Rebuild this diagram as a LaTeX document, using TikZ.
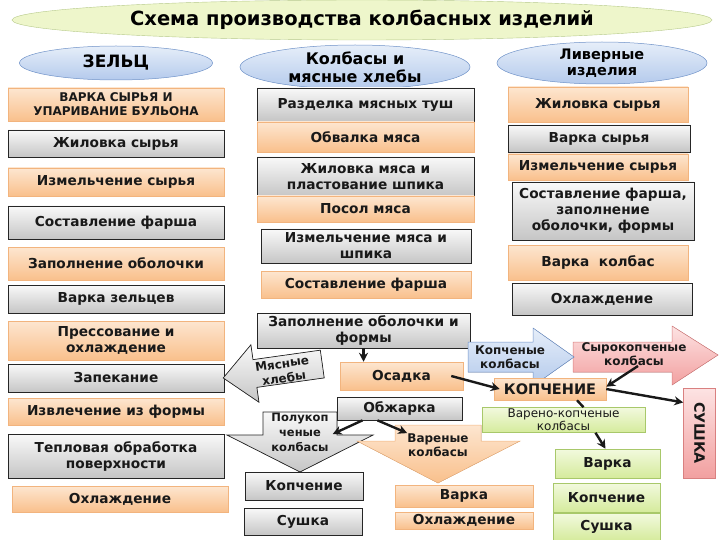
\documentclass[tikz,border=0pt]{standalone}
\usepackage{fontspec}
\setmainfont{DejaVu Sans}
\usetikzlibrary{arrows.meta,calc,shapes.geometric}

\definecolor{orlight}{HTML}{FDE6D0}
\definecolor{ordark}{HTML}{F9C08C}
\definecolor{orline}{HTML}{F2B47E}
\definecolor{grlight}{HTML}{F2F9DE}
\definecolor{grdark}{HTML}{D5EB9C}
\definecolor{grline}{HTML}{A8C86A}
\definecolor{bllight}{HTML}{E6EEF9}
\definecolor{bldark}{HTML}{B4CAEC}
\definecolor{blline}{HTML}{6F92C8}
\definecolor{pklight}{HTML}{FDE3E3}
\definecolor{pkdark}{HTML}{F2A0A0}
\definecolor{pkline}{HTML}{D98080}
\definecolor{ttlfill}{HTML}{EEF6CB}
\definecolor{ttlline}{HTML}{B6C98A}

\tikzset{
  box/.style={rectangle, inner sep=0pt, align=center, text=black!90,
    font=\bfseries\fontsize{13.7}{16}\selectfont},
  graybox/.style={box, draw=black!85, line width=0.7pt, top color=gray!5, bottom color=gray!45},
  orbox/.style={box, draw=orline, line width=0.5pt, top color=orlight, bottom color=ordark},
  grbox/.style={box, draw=grline, line width=0.5pt, top color=grlight, bottom color=grdark},
  pkbox/.style={box, draw=pkline, line width=0.5pt, top color=pklight, bottom color=pkdark},
  oval/.style={ellipse, inner sep=0pt, align=center, draw=blline, line width=0.5pt,
    top color=bllight, bottom color=bldark, font=\bfseries\fontsize{16}{18}\selectfont},
  lcol/.style={minimum width=216pt},
  mcol/.style={minimum width=217pt},
  rcol/.style={minimum width=180pt},
  small/.style={font=\bfseries\fontsize{12}{14.5}\selectfont},
  flow/.style={-{Stealth[length=9pt,width=9pt]}, line width=2.4pt, black!90},
}

\begin{document}
\begin{tikzpicture}[x=1pt,y=-1pt]
\useasboundingbox (0,0) rectangle (720,540);

% title and heads
\node[ellipse, draw=ttlline, fill=ttlfill, minimum width=700pt, minimum height=40pt,
  font=\bfseries\fontsize{19.5}{22}\selectfont] (title) at (362,20)
  {Схема производства колбасных изделий};
\node[oval, minimum width=193pt, minimum height=34pt, font=\bfseries\fontsize{17}{19}\selectfont]
  (zelts) at (116,63) {ЗЕЛЬЦ};
\node[oval, minimum width=230pt, minimum height=44pt] (kolb) at (355,67) {Колбасы и\\мясные хлебы};
\node[oval, minimum width=210pt, minimum height=42pt, font=\bfseries\fontsize{14.5}{16.5}\selectfont]
  (liver) at (602,63) {Ливерные\\изделия};

% left column
\node[orbox, lcol, minimum height=33pt, font=\bfseries\fontsize{12}{14}\selectfont] (l1) at (116,104.5)
  {ВАРКА СЫРЬЯ И\\УПАРИВАНИЕ БУЛЬОНА};
\node[graybox, lcol, minimum height=27pt] (l2) at (116,143.5) {Жиловка сырья};
\node[orbox, lcol, minimum height=28pt] (l3) at (116,182) {Измельчение сырья};
\node[graybox, lcol, minimum height=33pt] (l4) at (116,222.5) {Составление фарша};
\node[orbox, lcol, minimum height=33pt] (l5) at (116,263.5) {Заполнение оболочки};
\node[graybox, lcol, minimum height=28pt] (l6) at (116,299) {Варка зельцев};
\node[orbox, lcol, minimum height=39pt] (l7) at (116,340.5) {Прессование и\\охлаждение};
\node[graybox, lcol, minimum height=28pt] (l8) at (116,378) {Запекание};
\node[orbox, lcol, minimum height=27pt] (l9) at (116,411.5) {Извлечение из формы};
\node[graybox, lcol, minimum height=44pt] (l10) at (116,456) {Тепловая обработка\\поверхности};
\node[orbox, lcol, minimum height=26pt] (l11) at (120,499) {Охлаждение};

% middle column
\node[graybox, mcol, minimum height=33pt] (m1) at (365.5,104.5) {Разделка мясных туш};
\node[orbox, mcol, minimum height=30pt] (m2) at (365.5,137) {Обвалка мяса};
\node[graybox, mcol, minimum height=39pt] (m3) at (365.5,176.5) {Жиловка мяса и\\пластование шпика};
\node[orbox, mcol, minimum height=26pt] (m4) at (365.5,209) {Посол мяса};
\node[graybox, minimum width=210pt, minimum height=34pt] (m5) at (366,246) {Измельчение мяса и\\шпика};
\node[orbox, minimum width=210pt, minimum height=27pt] (m6) at (366,284.5) {Составление фарша};
\node[graybox, minimum width=213pt, minimum height=35pt] (m7) at (363.5,330.5) {Заполнение оболочки и\\формы};

% right column
\node[orbox, rcol, minimum height=35pt] (r1) at (598,104.5) {Жиловка сырья};
\node[graybox, minimum width=182pt, minimum height=27pt] (r2) at (599,138.5) {Варка сырья};
\node[orbox, rcol, minimum height=26pt] (r3) at (598,167) {Измельчение сырья};
\node[graybox, minimum width=182pt, minimum height=58pt] (r4) at (603,211)
  {Составление фарша,\\заполнение\\оболочки, формы};
\node[orbox, rcol, minimum height=35pt] (r5) at (598,262.5) {Варка\ \ колбас};
\node[graybox, rcol, minimum height=32pt] (r6) at (602,299) {Охлаждение};

% block arrows
\begin{scope}[shift={(272.75,371)}, rotate=8]
\filldraw[draw=black!85, line width=0.7pt, top color=gray!5, bottom color=gray!45]
  (-50,0) -- (-18,-29) -- (-18,-14) -- (50,-14) -- (50,14) -- (-18,14) -- (-18,29) -- cycle;
\end{scope}
\node[box, small, rotate=8] (hleb) at (283,371) {Мясные\\хлебы};

\filldraw[draw=black!85, line width=0.7pt, top color=gray!5, bottom color=gray!45]
  (263,412) -- (337,412) -- (337,435) -- (373,435) -- (300,472) -- (227,435) -- (263,435) -- cycle;
\node[box, font=\bfseries\fontsize{11.5}{15}\selectfont] (polu) at (300,432) {Полукоп\\ченые\\колбасы};

\filldraw[draw=orline, line width=0.5pt, top color=orlight, bottom color=ordark]
  (395,425) -- (481,425) -- (481,441) -- (520,441) -- (438,483) -- (357,441) -- (395,441) -- cycle;
\node[box, small] (var) at (438,445) {Вареные\\колбасы};

\filldraw[draw=pkline, line width=0.5pt, top color=pklight, bottom color=pkdark]
  (573,342) -- (672,342) -- (672,326) -- (718,355) -- (672,385) -- (672,372) -- (573,372) -- cycle;
\node[box, small] (syr) at (634,354) {Сырокопченые\\колбасы};

\filldraw[draw=blline, line width=0.5pt, top color=bllight, bottom color=bldark]
  (468,342) -- (533,342) -- (533,328) -- (574,357) -- (533,386) -- (533,372) -- (468,372) -- cycle;
\node[box, small] (kop) at (510,357) {Копченые\\колбасы};

% lower boxes
\node[orbox, minimum width=123pt, minimum height=28pt] (osadka) at (401.5,376) {Осадка};
\node[graybox, minimum width=125pt, minimum height=23pt] (obzh) at (399.5,408.5) {Обжарка};
\node[graybox, minimum width=118pt, minimum height=28pt] (kopg) at (304,486) {Копчение};
\node[graybox, minimum width=118pt, minimum height=27pt] (sushg) at (303,521.5) {Сушка};
\node[orbox, minimum width=138pt, minimum height=22pt] (varo) at (464,496) {Варка};
\node[orbox, minimum width=138pt, minimum height=17pt] (ohlo) at (464,520.5) {Охлаждение};
\node[orbox, minimum width=112pt, minimum height=22pt, font=\bfseries\fontsize{14.5}{16}\selectfont]
  (kopch) at (550,389) {КОПЧЕНИЕ};
\node[grbox, minimum width=163pt, minimum height=25pt, font=\fontsize{12}{13}\selectfont]
  (varkop) at (563.5,420) {Варено-копченые\\колбасы};
\node[pkbox, rotate=-90, minimum width=90pt, minimum height=32pt, font=\bfseries\fontsize{14.3}{16}\selectfont]
  (sushka) at (699.5,433) {СУШКА};
\node[grbox, minimum width=105pt, minimum height=29pt] (varg) at (607.5,463.5) {Варка};
\node[grbox, minimum width=107pt, minimum height=29pt] (kopgr) at (606.5,497.5) {Копчение};
\node[grbox, minimum width=107pt, minimum height=27pt] (sushgr) at (606.5,527) {Сушка};

% connectors
\draw[flow] (m7.south) -- (m7.south |- osadka.north);
\draw[flow] ([xshift=-12pt]osadka.east) -- ([xshift=6pt]kopch.west);
\draw[flow] ([xshift=4pt]syr.south) -- ($(kopch.north east)!0.4!(kopch.south east)$);
\draw[flow] (kopch.east) -- (sushka.208);
\draw[line width=2.4pt, black!90] ([xshift=27pt]kopch.south) -- ([xshift=20pt]varkop.north);
\draw[flow] ([xshift=32pt]varkop.south) -- ([xshift=-2pt]varg.north);
\draw[flow] ([xshift=-37pt]obzh.south) -- ([xshift=4pt,yshift=-2pt]polu.east);
\draw[flow] ([xshift=-22pt]obzh.south) -- (var.north west);
\end{tikzpicture}
\end{document}
